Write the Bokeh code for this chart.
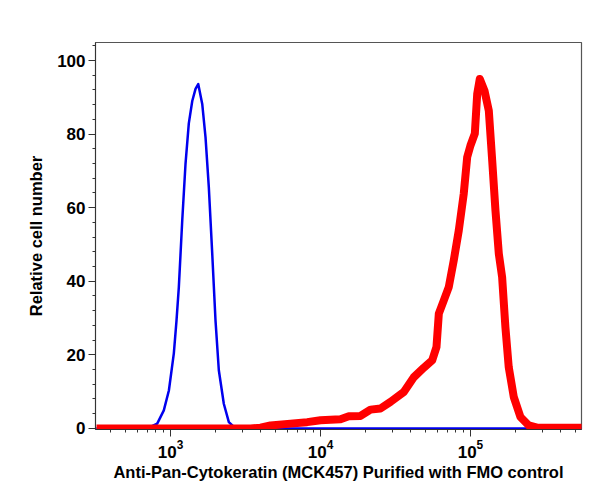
from bokeh.plotting import figure
from bokeh.models import Range1d, FixedTicker, LogTicker, LogTickFormatter
from bokeh.embed import file_html
from bokeh.resources import INLINE

# FMO control (blue)
blue_x = [320, 700, 815, 902, 975, 1052, 1096, 1136, 1197, 1259, 1324, 1396, 1468,
          1530, 1627, 1711, 1800, 1897, 1995, 2099, 2266, 2448, 2712, 550000]
blue_y = [0, 0, 1.3, 4.9, 10.3, 20.4, 29.3, 38.4, 56.5, 72, 82.9, 89, 92.3,
          93.6, 88.2, 79.2, 65.6, 47.5, 29.3, 15.8, 6.7, 1.7, 0, 0]

# Anti-Pan-Cytokeratin stained (red)
red_x = [321, 3415, 3981, 4642, 6310, 8150, 10000, 13590, 15450, 18480, 21540,
         25120, 29290, 35930, 41880, 48860, 55590, 59340, 61520, 66420, 71650,
         77400, 83560, 90200, 95060, 100000, 106900, 110900, 115400, 124000,
         132500, 139600, 146800, 154500, 162600, 171000, 179900, 194500, 215400,
         244900, 278500, 566000]
red_y = [0, 0, 0.2, 0.8, 1.3, 1.7, 2.2, 2.5, 3.3, 3.4, 5.1,
         5.4, 7.2, 9.9, 13.9, 16.5, 18.5, 22.1, 31.2, 34.8, 38.4,
         45.7, 53.8, 63.8, 73.7, 76.9, 80.1, 90.9, 95, 91.8,
         86.4, 72.8, 59.2, 47.5, 41.1, 27.5, 16.7, 8.5, 3.1,
         0.8, 0.2, 0.2]

y_ticks = [0, 20, 40, 60, 80, 100]

p = figure(width=600, height=495, x_axis_type="log", output_backend="svg",
           toolbar_location=None,
           x_range=Range1d(316, 550000), y_range=Range1d(-0.3, 104.9),
           min_border_left=95, min_border_right=19, min_border_top=42,
           min_border_bottom=66)

p.line(blue_x, blue_y, line_color="#0000ee", line_width=2.5, line_join="round")
p.line(red_x, red_y, line_color="#ff0000", line_width=8, line_join="round")

p.xgrid.visible = False
p.ygrid.visible = False
p.outline_line_color = "#555555"
p.outline_line_width = 1.2

font = "Liberation Sans"
for ax in (p.xaxis[0], p.yaxis[0]):
    ax.axis_label_text_font = font
    ax.axis_label_text_font_style = "bold"
    ax.axis_label_text_font_size = "16.5px"
    ax.axis_label_text_color = "black"
    ax.major_label_text_font = font
    ax.major_label_text_font_style = "bold"
    ax.major_label_text_font_size = "17px"
    ax.major_label_text_color = "black"
    ax.axis_line_color = "#333333"
    ax.major_tick_line_color = "#333333"
    ax.minor_tick_line_color = "#333333"
    ax.major_tick_out = 7
    ax.major_tick_in = 0
    ax.minor_tick_out = 3
    ax.minor_tick_in = 0

p.yaxis[0].ticker = FixedTicker(ticks=y_ticks, minor_ticks=list(range(0, 105, 4)))
p.yaxis[0].axis_label = "Relative cell number"
p.yaxis[0].major_label_standoff = 3
p.yaxis[0].axis_label_standoff = 9

p.xaxis[0].ticker = LogTicker(num_minor_ticks=10)
p.xaxis[0].formatter = LogTickFormatter()
p.xaxis[0].major_label_text_font_size = "17px"
p.xaxis[0].axis_label = "Anti-Pan-Cytokeratin (MCK457) Purified with FMO control"
p.xaxis[0].major_label_standoff = 3
p.xaxis[0].axis_label_standoff = 2

open("out.html", "w").write(file_html(p, INLINE))
